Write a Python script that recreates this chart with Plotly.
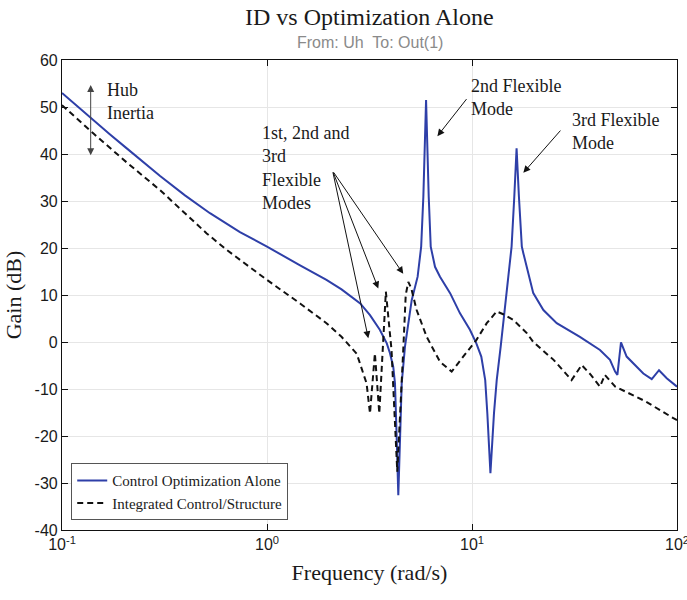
import plotly.graph_objects as go
import math

# Control Optimization Alone (solid blue)
blue_freq = [0.1, 0.142, 0.171, 0.207, 0.249, 0.301, 0.398, 0.527, 0.738, 1.0, 1.45, 1.95,
             2.31, 2.85, 3.18, 3.55, 3.84, 3.98, 4.13, 4.21, 4.29, 4.37, 4.46, 4.49, 4.54,
             4.71, 5.08, 5.43, 5.65, 5.79, 5.97, 6.15, 6.29, 6.60, 6.98, 7.82, 8.74, 9.77,
             10.5, 11.1, 11.6, 11.88, 12.3, 12.8, 13.2, 13.8, 14.5, 15.0, 15.6, 16.08, 16.5,
             16.94, 17.5, 17.8, 19.9, 22.3, 25.9, 33.6, 42.1, 47.1, 49.9, 51.2, 53.3, 56.8,
             61.3, 68.5, 75.3, 81.7, 89.1, 100.0]
blue_gain = [53.0, 47.2, 44.2, 41.2, 38.2, 35.3, 31.2, 27.4, 23.4, 20.3, 16.3, 13.2,
             11.2, 8.2, 5.7, 2.6, -0.3, -2.4, -5.3, -8.8, -20.1, -32.6, -20.1, -15.2, -8.8,
             -1.0, 8.9, 13.9, 20.3, 30.9, 51.5, 30.9, 20.3, 16.0, 13.9, 10.4, 6.1, 2.6,
             -0.3, -3.1, -8.1, -15.2, -27.9, -15.2, -8.1, -1.0, 7.5, 13.9, 20.3, 30.9, 41.2,
             30.9, 20.3, 18.9, 10.4, 6.8, 4.0, 1.1, -1.7, -3.8, -6.3, -7.0, -0.1, -3.1,
             -4.5, -6.7, -7.9, -6.0, -7.7, -9.5]

# Integrated Control/Structure (dashed black)
dash_freq = [0.1, 0.142, 0.207, 0.301, 0.508, 0.636, 1.0, 1.45, 1.95, 2.31, 2.74, 3.06, 3.18,
             3.36, 3.53, 3.80, 4.05, 4.32, 4.62, 4.75, 4.89, 5.05, 5.37, 6.01, 6.98, 7.96,
             9.06, 10.5, 11.8, 13.2, 14.2, 15.9, 18.5, 19.9, 25.0, 30.6, 34.3, 38.0, 42.1,
             44.5, 50.0, 70.0, 96.0, 100.0]
dash_gain = [50.4, 44.4, 38.2, 32.3, 23.1, 19.6, 13.2, 8.2, 4.0, 1.1, -2.5, -8.8, -15.2,
             -2.4, -15.2, 10.7, -1.7, -27.6, -1.7, 10.0, 12.8, 11.5, 6.8, 1.1, -4.2, -6.3,
             -3.1, 0.4, 4.0, 6.5, 5.9, 4.7, 1.9, 0.0, -3.8, -8.1, -4.9, -7.0, -9.5,
             -7.0, -9.5, -12.6, -16.2, -16.6]

x_tickvals = [0.1, 1, 10, 100]
x_ticktext = ["10<sup>-1</sup>", "10<sup>0</sup>", "10<sup>1</sup>", "10<sup>2</sup>"]
y_tickvals = [-40, -30, -20, -10, 0, 10, 20, 30, 40, 50, 60]
y_ticktext = ["-40", "-30", "-20", "-10", "0", "10", "20", "30", "40", "50", "60"]

SERIF = "Liberation Serif"
SANS = "Liberation Sans"
BLUE = "#2E3FA8"
TXT = "#1a1a1a"

fig = go.Figure()
fig.add_trace(go.Scatter(x=blue_freq, y=blue_gain, mode="lines",
                         name="Control Optimization Alone",
                         line=dict(color=BLUE, width=2)))
fig.add_trace(go.Scatter(x=dash_freq, y=dash_gain, mode="lines",
                         name="Integrated Control/Structure",
                         line=dict(color="#111111", width=2, dash="6px,4px")))

L = math.log10

def arrow(x, y, ax, ay, **kw):
    d = dict(x=L(x), y=y, ax=L(ax), ay=ay, xref="x", yref="y", axref="x", ayref="y",
             showarrow=True, arrowhead=2, arrowsize=1.4, arrowwidth=1, arrowcolor="#111111",
             text="")
    d.update(kw)
    fig.add_annotation(**d)

def label(x, y, text):
    fig.add_annotation(x=L(x), y=y, xref="x", yref="y", xanchor="left", yanchor="top",
                       text=text, showarrow=False, align="left", borderpad=0,
                       font=dict(family=SERIF, size=18, color=TXT))

# Hub inertia double arrow
arrow(0.138, 54.7, 0.138, 39.4, arrowside="end+start", arrowcolor="#444444")
label(0.163, 56.0, "Hub<br>Inertia")

# 1st, 2nd, 3rd flexible modes
tail = (2.09, 36.4)
arrow(3.12, 0.8, *tail)
arrow(3.49, 11.4, *tail)
arrow(4.62, 14.5, *tail)
label(0.93, 46.8, "1st, 2nd and<br>3rd<br>Flexible<br>Modes")

# 2nd flexible mode
arrow(6.78, 43.8, 9.53, 52.0)
label(9.8, 56.8, "2nd Flexible<br>Mode")

# 3rd flexible mode
arrow(17.8, 36.0, 27.4, 45.3)
label(30.5, 49.5, "3rd Flexible<br>Mode")

# Title and subtitle
fig.add_annotation(x=0.5, y=1.0915, xref="paper", yref="paper", xanchor="center", yanchor="middle",
                   text="ID vs Optimization Alone", showarrow=False,
                   font=dict(family=SERIF, size=24, color=TXT))
fig.add_annotation(x=0.5, y=1.038, xref="paper", yref="paper", xanchor="center", yanchor="middle",
                   text="From: Uh  To: Out(1)", showarrow=False,
                   font=dict(family=SANS, size=16, color="#8a8a8a"))

fig.update_layout(
    width=687, height=600,
    margin=dict(l=62, r=10, t=60, b=70, autoexpand=False),
    paper_bgcolor="white", plot_bgcolor="white",
    showlegend=True,
    legend=dict(x=0.015, y=0.021, xanchor="left", yanchor="bottom",
                bgcolor="white", bordercolor="#555555", borderwidth=1,
                font=dict(family=SERIF, size=15, color=TXT),
                tracegroupgap=0, itemwidth=30),
    xaxis=dict(type="log", range=[-1, 2], tickvals=x_tickvals, ticktext=x_ticktext,
               automargin=False,
               showgrid=True, gridcolor="#e6e6e6", gridwidth=1,
               showline=True, linecolor="#111111", linewidth=1.2, mirror="ticks",
               ticks="inside", ticklen=6, tickcolor="#111111",
               ticklabeloverflow="allow",
               tickfont=dict(family=SANS, size=16, color=TXT),
               title=dict(text="Frequency (rad/s)", font=dict(family=SERIF, size=22, color=TXT),
                          standoff=12),
               zeroline=False),
    yaxis=dict(range=[-40, 60], tickvals=y_tickvals, ticktext=y_ticktext,
               automargin=False,
               showgrid=True, gridcolor="#e6e6e6", gridwidth=1,
               showline=True, linecolor="#111111", linewidth=1.2, mirror="ticks",
               ticks="inside", ticklen=6, tickcolor="#111111",
               tickfont=dict(family=SANS, size=16, color=TXT),
               title=dict(text="Gain (dB)", font=dict(family=SERIF, size=22, color=TXT),
                          standoff=6),
               zeroline=False),
)

fig.write_html("out.html")
